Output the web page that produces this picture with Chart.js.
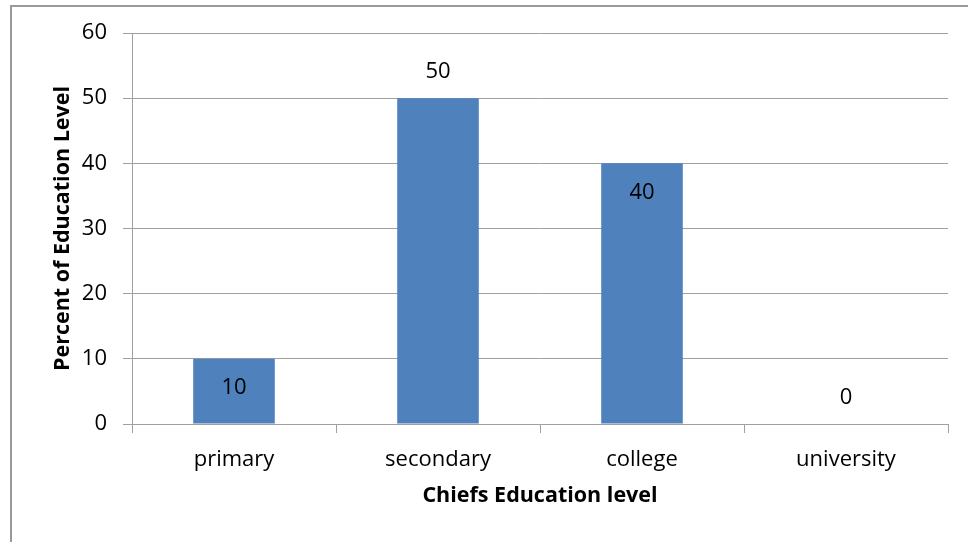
<!DOCTYPE html>
<html>
<head>
<meta charset="utf-8">
<title>Chiefs Education level</title>
<script src="https://cdn.jsdelivr.net/npm/chart.js@4"></script>
<style>
  html, body { margin: 0; padding: 0; background: #fff; }
  canvas { display: block; }
</style>
</head>
<body>
<canvas id="myChart" width="968" height="542"></canvas>
<script>
// datos del grafico
const categories = ['primary', 'secondary', 'college', 'university'];
const percentValues = [10, 50, 40, 0];
const yTicks = [0, 10, 20, 30, 40, 50, 60];

const gridGray = '#a0a0a0';
const fontFamily = '"Open Sans", "Liberation Sans", sans-serif';

// marco exterior del grafico (como en Excel)
const frame = {
    id: 'frame',
    beforeDraw(chart) {
        const c = chart.ctx;
        c.save();
        c.fillStyle = '#fff';
        c.fillRect(0, 0, chart.width, chart.height);
        c.strokeStyle = '#999';
        c.lineWidth = 2;
        c.strokeRect(11, 6, chart.width + 20, chart.height + 20);
        c.restore();
    }
};

// etiquetas de valores: algunas dentro de la barra, otras encima
const valueLabels = {
    id: 'valueLabels',
    afterDatasetsDraw(chart, args, opts) {
        const c = chart.ctx;
        const meta = chart.getDatasetMeta(0);
        c.save();
        c.font = '22px ' + fontFamily;
        c.fillStyle = '#000';
        c.textAlign = 'center';
        c.textBaseline = 'middle';
        meta.data.forEach((bar, i) => {
            const v = percentValues[i];
            const inside = opts.inside[i];
            const y = inside ? bar.y + 29 : bar.y - 26;
            c.fillText(String(v), bar.x, y);
        });
        c.restore();
    }
};

const ctx = document.getElementById('myChart').getContext('2d');

const myChart = new Chart(ctx, {
    type: 'bar',
    data: {
        labels: categories,
        datasets: [{
            label: 'Percent',
            data: percentValues,
            backgroundColor: '#4f81bd',
            borderWidth: 0,
            categoryPercentage: 0.4,
            barPercentage: 1
        }]
    },
    options: {
        responsive: false,
        animation: false,
        devicePixelRatio: 1,
        layout: {
            padding: { top: 33, right: 20, bottom: 0, left: 0 }
        },
        scales: {
            y: {
                min: 0,
                max: 60,
                afterFit(scale) { scale.width = 132; },
                afterBuildTicks(scale) {
                    scale.ticks = yTicks.map(v => ({ value: v }));
                },
                ticks: {
                    color: '#000',
                    padding: 16,
                    font: { family: fontFamily, size: 22 }
                },
                grid: {
                    color: gridGray,
                    lineWidth: 1,
                    tickLength: 9
                },
                border: { display: true, color: gridGray, width: 1 },
                title: {
                    display: true,
                    text: 'Percent of Education Level',
                    color: '#000',
                    font: { family: fontFamily, size: 21.5, weight: 'bold' },
                    padding: { top: 50, bottom: 0 }
                }
            },
            x: {
                afterFit(scale) { scale.height = 118; },
                ticks: {
                    color: '#000',
                    padding: 14,
                    font: { family: fontFamily, size: 22 }
                },
                grid: {
                    offset: true,
                    drawOnChartArea: false,
                    drawTicks: true,
                    tickLength: 9,
                    color: gridGray
                },
                border: { display: true, color: gridGray, width: 1 },
                title: {
                    display: true,
                    text: 'Chiefs Education level',
                    color: '#000',
                    font: { family: fontFamily, size: 21.5, weight: 'bold' },
                    padding: { top: 0, bottom: 33 }
                }
            }
        },
        plugins: {
            legend: { display: false },
            tooltip: { enabled: false },
            valueLabels: { inside: [true, false, true, false] }
        }
    },
    plugins: [frame, valueLabels]
});
</script>
</body>
</html>
